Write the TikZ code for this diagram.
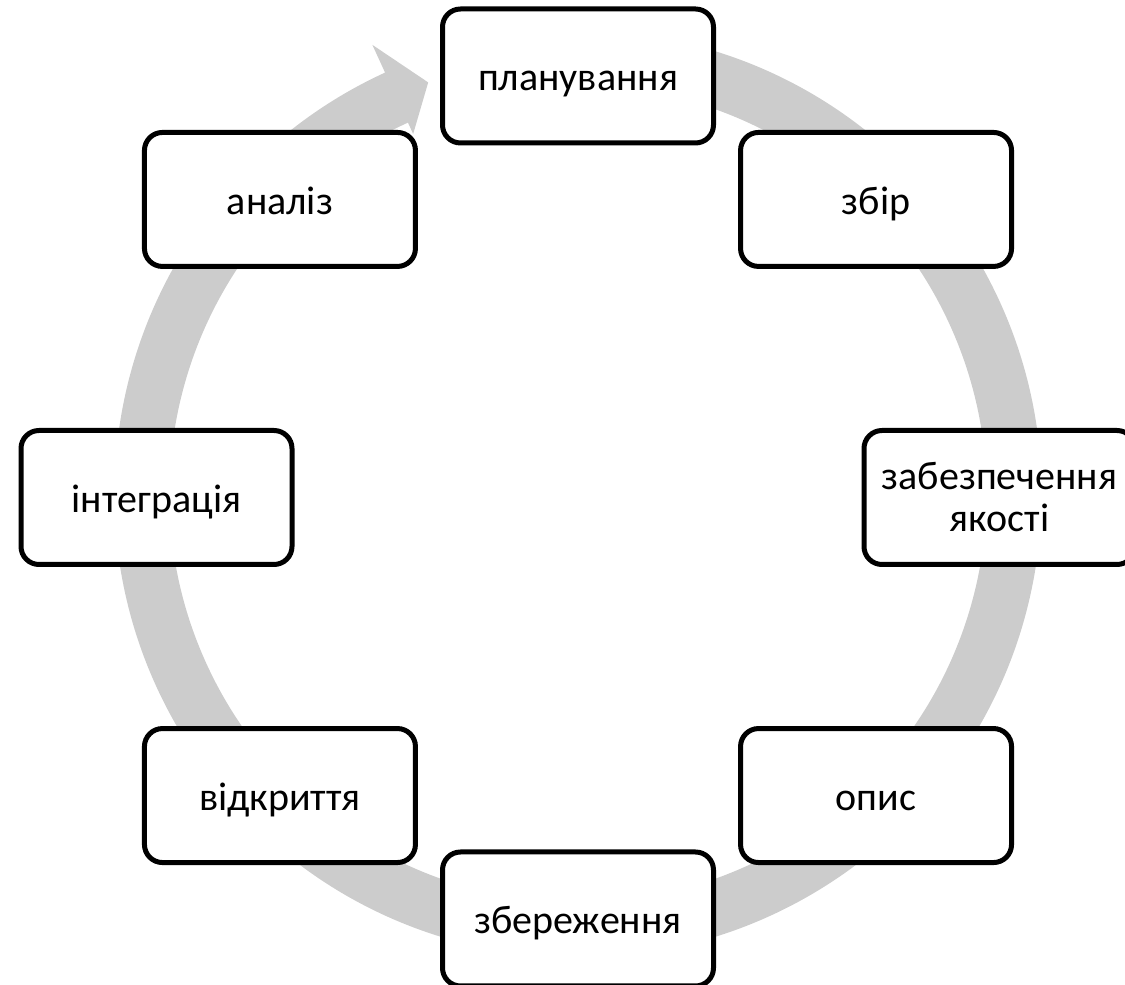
\documentclass[tikz,border=0pt]{standalone}
\usepackage{fontspec}
\setmainfont{Carlito}
\definecolor{bandgray}{HTML}{CCCCCC}
\begin{document}
\begin{tikzpicture}[x=0.5pt,y=0.5pt,
  stage/.style={draw=black, line width=2.5pt, fill=white, rounded corners=9pt,
    minimum width=135.5pt, minimum height=67pt, align=center, inner sep=0pt,
    font=\fontsize{20}{21}\selectfont},
  oneline/.style={stage, text height=18pt, text depth=3pt}]
\useasboundingbox (0,0) rectangle (1125,985);
% circular arrow band
\begin{scope}[shift={(578,491)}]
\fill[bandgray] (80:463.5) arc[start angle=80,end angle=-245.4,radius=463.5]
  -- (-245.4:494) -- (-250:438) -- (-245.4:396) -- (-245.4:408.5)
  arc[start angle=-245.4,end angle=80,radius=408.5] -- cycle;
\end{scope}
% stages
\begin{scope}[shift={(578,487.5)}]
\node[oneline] (plan) at (90:421.5) {планування};
\node[oneline] (zbir) at (45:421.5) {збір};
\node[stage] (qa) at (0:421.5) {забезпечення\\якості};
\node[oneline] (opys) at (-45:421.5) {опис};
\node[oneline] (zber) at (-90:421.5) {збереження};
\node[oneline] (vidk) at (-135:421.5) {відкриття};
\node[oneline] (integr) at (180:421.5) {інтеграція};
\node[oneline] (anal) at (135:421.5) {аналіз};
\end{scope}
\end{tikzpicture}
\end{document}
